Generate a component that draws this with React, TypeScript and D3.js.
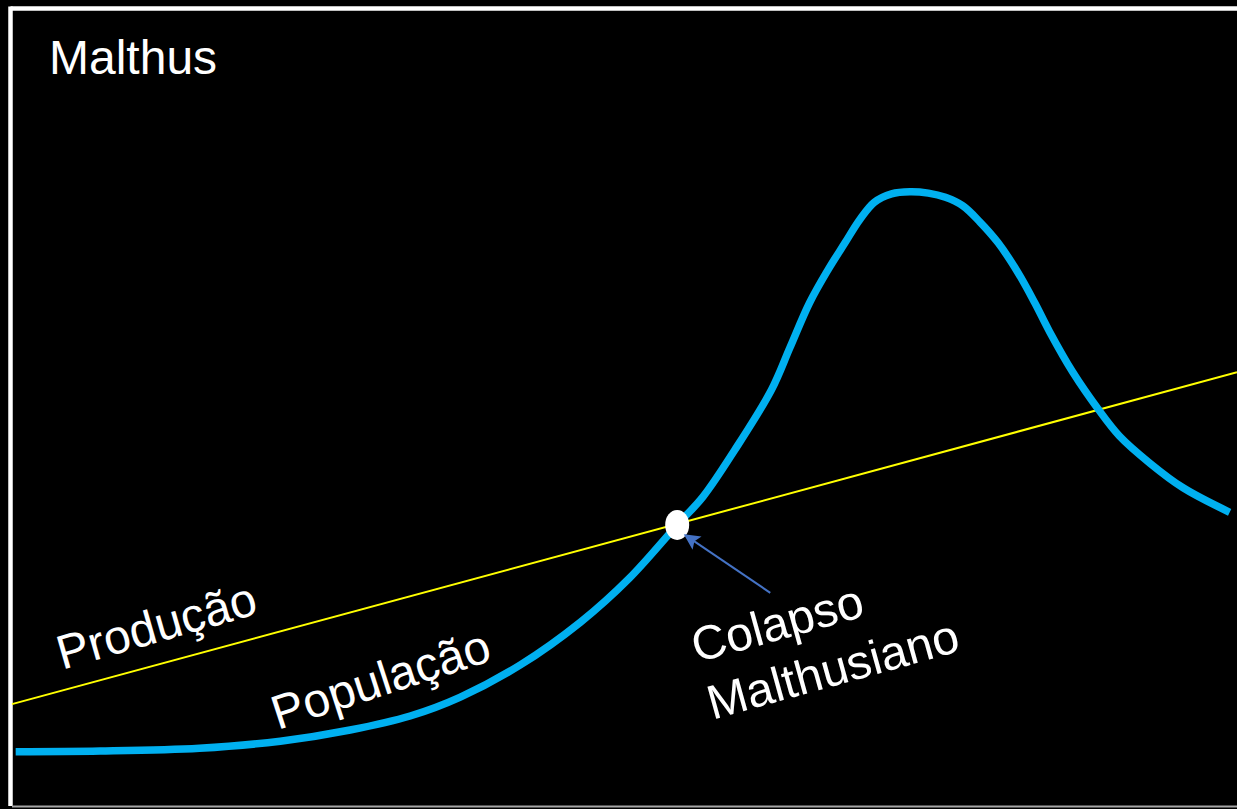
import React from "react";
import * as d3 from "d3";

// Population curve (time, population) in arbitrary units
const popTime = [0.3, 7.2, 15.3, 21.9, 27.6, 32.5, 36.6, 41.5, 46.4, 50.4, 54.3, 56.4, 59.0, 62.0, 63.5, 65.1, 66.6, 68.0, 69.2, 70.4, 71.8, 73.3, 74.8, 76.2, 77.6, 79.0, 80.5, 82.1, 83.5, 84.7, 86.6, 88.6, 90.4, 92.9, 95.6, 99.4];
const popValue = [6.9, 7.0, 7.4, 8.4, 10.0, 12.0, 14.7, 19.3, 25.4, 31.7, 39.3, 43.3, 50.0, 58.6, 64.6, 71.0, 75.7, 79.6, 82.9, 85.4, 86.6, 86.9, 86.7, 86.1, 84.9, 82.6, 79.6, 75.4, 71.0, 66.9, 61.1, 56.0, 52.0, 48.1, 44.6, 41.1];

// Production line (linear)
const prodTime = [0, 100];
const prodValue = [13.7, 61.1];

// Collapse point
const collapseTime = 54.3;
const collapseValue = 39.3;

// Labels
const titleText = "Malthus";
const prodLabel = "Produção";
const popLabel = "População";
const collapseLabel = ["Colapso", "Malthusiano"];

const W = 1237;
const H = 809;

export default function App() {
  const x = d3.scaleLinear().domain([0, 100]).range([12, 1237]);
  const y = d3.scaleLinear().domain([0, 100]).range([800, 100]);

  const popData = popTime.map((t, i) => [t, popValue[i]] as [number, number]);
  const prodData = prodTime.map((t, i) => [t, prodValue[i]] as [number, number]);

  const line = d3
    .line<[number, number]>()
    .x((d) => x(d[0]))
    .y((d) => y(d[1]))
    .curve(d3.curveCatmullRom.alpha(0.5));
  const straight = d3
    .line<[number, number]>()
    .x((d) => x(d[0]))
    .y((d) => y(d[1]));

  const cx = x(collapseTime);
  const cy = y(collapseValue);

  // arrow from label towards collapse point
  const ax1 = x(61.9);
  const ay1 = y(29.6);
  const ax2 = x(54.95);
  const ay2 = y(37.85);

  const font = "'Liberation Sans', Arial, sans-serif";
  const fs = 48;

  return (
    <svg
      width={W}
      height={H}
      style={{ position: "absolute", left: 0, top: 0, display: "block" }}
    >
      <defs>
        <marker
          id="arrowHead"
          viewBox="0 0 10 10"
          refX="9"
          refY="5"
          markerWidth="9"
          markerHeight="8"
          markerUnits="strokeWidth"
          orient="auto"
        >
          <path d="M0,0 L10,5 L0,10 L2,5 Z" fill="#4472c4" />
        </marker>
      </defs>
      <rect x={0} y={0} width={W} height={H} fill="#000" />
      {/* frame */}
      <line x1={10.5} y1={8.5} x2={W + 5} y2={8.5} stroke="#fff" strokeWidth={4.5} />
      <line x1={10.5} y1={6.5} x2={10.5} y2={806} stroke="#fff" strokeWidth={4.5} />
      <line x1={12} y1={806.5} x2={W} y2={806.5} stroke="#a6a6a6" strokeWidth={2} />

      <text x={49} y={74} fill="#fff" fontFamily={font} fontSize={fs}>
        {titleText}
      </text>

      <path d={straight(prodData) || ""} fill="none" stroke="#ffff00" strokeWidth={2} />
      <path
        d={line(popData) || ""}
        fill="none"
        stroke="#00b0f0"
        strokeWidth={7.5}
        strokeLinecap="butt"
        strokeLinejoin="round"
      />

      <ellipse cx={cx} cy={cy} rx={12} ry={15} fill="#fff" />

      <line
        x1={ax1}
        y1={ay1}
        x2={ax2}
        y2={ay2}
        stroke="#4472c4"
        strokeWidth={2}
        markerEnd="url(#arrowHead)"
      />

      <text
        transform={`translate(${x(4.1)},${y(18.6)}) rotate(-16)`}
        fill="#fff"
        fontFamily={font}
        fontSize={fs}
      >
        {prodLabel}
      </text>
      <text
        transform={`translate(${x(21.7)},${y(10.0)}) rotate(-18)`}
        fill="#fff"
        fontFamily={font}
        fontSize={fs}
      >
        {popLabel}
      </text>
      <text
        transform={`translate(${x(55.9)},${y(19.6)}) rotate(-15.5)`}
        fill="#fff"
        fontFamily={font}
        fontSize={fs}
      >
        {collapseLabel.map((l, i) => (
          <tspan key={i} x={0} dy={i === 0 ? 0 : 59}>
            {l}
          </tspan>
        ))}
      </text>
    </svg>
  );
}
